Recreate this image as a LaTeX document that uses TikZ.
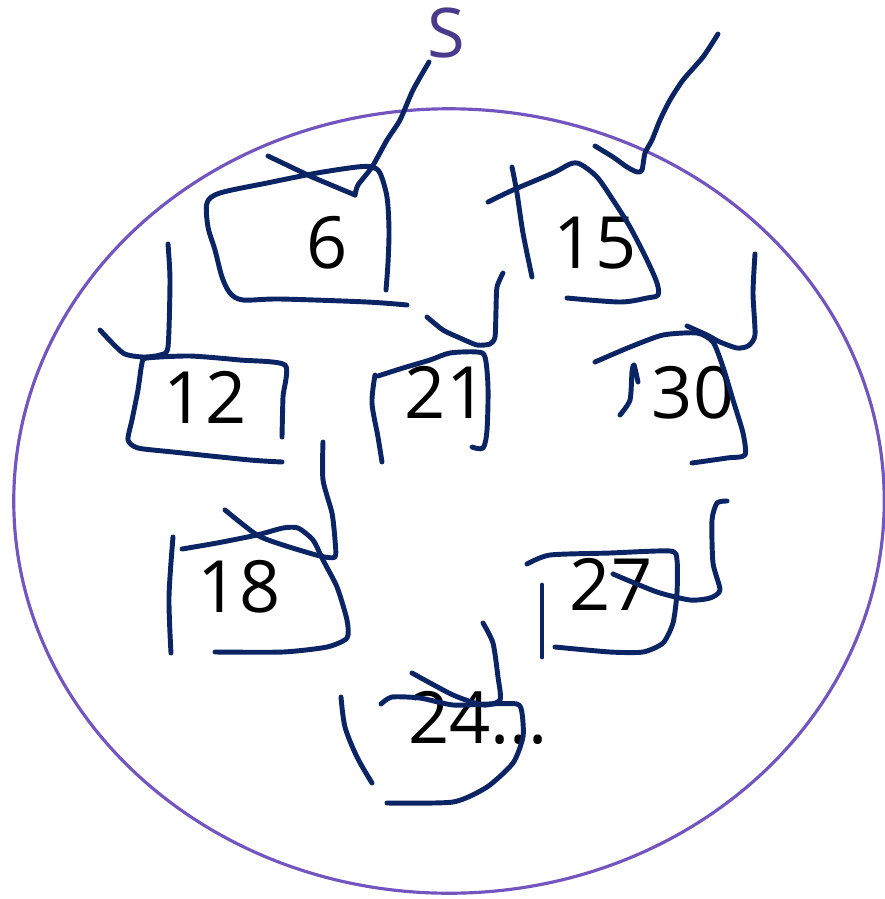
\documentclass[tikz,border=0pt]{standalone}
\usepackage{fontspec}
\setmainfont{Open Sans}
\definecolor{inkblue}{HTML}{0B2464}
\definecolor{setline}{HTML}{7355BF}
\definecolor{setlabel}{HTML}{4B3A8C}

\begin{document}
\begin{tikzpicture}[
  x=0.01cm, y=-0.01cm,
  pen/.style={draw=inkblue, line width=1.4pt, line cap=round, line join=round},
  num/.style={font=\fontsize{20.5}{24}\selectfont, anchor=base, inner sep=0pt},
]
\useasboundingbox (0,0) rectangle (885,899);

% the set S
\draw[setline, line width=0.9pt] (449,501) ellipse [x radius=4.35cm, y radius=3.92cm];
\node[num, text=setlabel, font=\fontsize{19.5}{24}\selectfont] (S) at (446,57) {S};

% members
\node[num] (n6)  at (327,268) {6};
\node[num] (n15) at (595,268) {15};
\node[num] (n12) at (205,423) {12};
\node[num] (n21) at (446,418) {21};
\node[num] (n30) at (693,418) {30};
\node[num] (n18) at (239,612) {18};
\node[num] (n27) at (611,610) {27};
\node[num] (n24) at (478,743) {24...};

% --- scribbles round 6 ---
\draw[pen] plot[smooth, tension=0.4] coordinates {(429,62) (413,90) (400,120) (387,140) (372,167) (358,185) (355,195)};
\draw[pen] (355,195) -- (312,177) -- (268,156);
\draw[pen] plot[smooth, tension=0.5] coordinates {(407,305) (367,302) (280,299) (243,300) (230,293) (222,277) (215,250) (208,227) (207,203) (220,193) (267,183) (317,173) (357,167) (372,167) (380,173) (387,197) (389,230) (388,263) (386,290)};

% --- scribbles round 15 ---
\draw[pen] plot[smooth, tension=0.4] coordinates {(718,34) (703,57) (683,80) (670,100) (660,120) (652,140) (645,153) (642,170) (637,172) (627,167) (613,157) (595,146)};
\draw[pen] plot[smooth, tension=0.5] coordinates {(488,202) (513,190) (553,173) (570,164) (580,164) (597,177) (613,200) (630,227) (647,260) (657,283) (658,295) (647,298) (620,302) (567,298)};
\draw[pen] plot[smooth, tension=0.5] coordinates {(512,167) (517,193) (523,233) (532,277)};

% --- scribbles round 21 ---
\draw[pen] plot[smooth, tension=0.4] coordinates {(503,273) (497,287) (496,310) (495,337) (490,344) (477,345) (460,338) (443,330) (427,317)};
\draw[pen] plot[smooth, tension=0.5] coordinates {(378,376) (403,368) (430,360) (450,353) (477,352) (485,357) (488,387) (487,430) (483,448) (472,447)};
\draw[pen] plot[smooth, tension=0.5] coordinates {(375,375) (372,403) (378,437) (382,462)};

% --- scribbles round 12 ---
\draw[pen] plot[smooth, tension=0.4] coordinates {(168,244) (170,280) (168,347) (160,355) (143,357) (123,353) (100,330)};
\draw[pen] plot[smooth, tension=0.4] coordinates {(282,437) (283,397) (285,365) (240,360) (190,356) (147,358) (142,363) (138,390) (132,420) (128,440) (138,448) (173,452) (250,460) (282,462)};

% --- scribbles round 30 ---
\draw[pen] plot[smooth, tension=0.4] coordinates {(755,254) (753,293) (755,335) (748,346) (737,348) (720,342) (707,335) (687,326)};
\draw[pen] plot[smooth, tension=0.4] coordinates {(595,362) (630,347) (663,335) (697,333) (713,342) (723,367) (733,400) (743,433) (745,455) (727,458) (692,463)};
\draw[pen] plot[smooth, tension=0.4] coordinates {(638,382) (634,365) (632,372) (630,400) (620,415)};

% --- scribbles round 18 ---
\draw[pen] plot[smooth, tension=0.4] coordinates {(323,442) (323,480) (332,513) (335,540) (335,557) (320,556) (283,545) (257,535) (225,510)};
\draw[pen] plot[smooth, tension=0.4] coordinates {(182,549) (217,543) (257,535) (283,528) (298,528) (313,540) (323,560) (337,587) (347,620) (347,638) (327,647) (283,652) (215,652)};
\draw[pen] plot[smooth, tension=0.5] coordinates {(173,537) (169,597) (171,653)};

% --- scribbles round 27 ---
\draw[pen] plot[smooth, tension=0.4] coordinates {(727,501) (717,503) (712,520) (713,563) (720,590) (710,598) (690,600) (657,592) (613,574)};
\draw[pen] plot[smooth, tension=0.4] coordinates {(527,564) (550,555) (610,553) (670,551) (677,560) (677,593) (673,623) (663,643) (643,652) (610,652) (555,647)};
\draw[pen] (542,585) -- (542,657);

% --- scribbles round 24 ---
\draw[pen] plot[smooth, tension=0.4] coordinates {(483,623) (493,643) (498,677) (500,700) (483,705) (453,695) (412,673)};
\draw[pen] plot[smooth, tension=0.4] coordinates {(381,704) (392,697) (420,698) (453,705) (487,704) (517,704) (522,713) (523,737) (513,763) (487,787) (453,802) (387,803)};
\draw[pen] plot[smooth, tension=0.5] coordinates {(341,697) (345,727) (357,757) (372,783)};
\end{tikzpicture}
\end{document}
